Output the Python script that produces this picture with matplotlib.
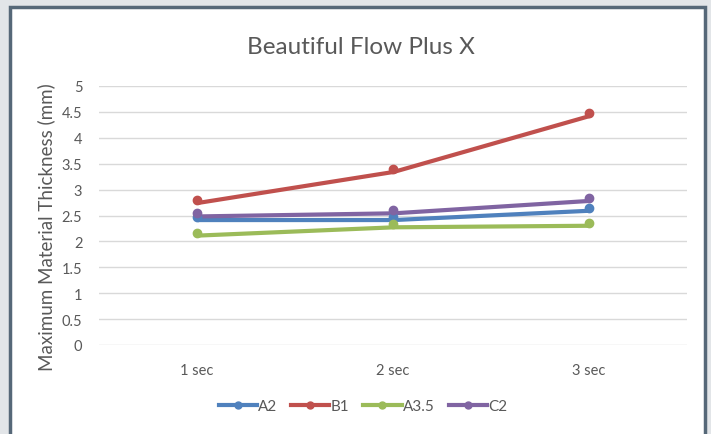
import matplotlib.pyplot as plt
import matplotlib.transforms as mtransforms
from matplotlib.patches import Rectangle

categories = ['1 sec', '2 sec', '3 sec']
series_names = ['A2', 'B1', 'A3.5', 'C2']
a2 = [2.47, 2.47, 2.65]
b1 = [2.80, 3.40, 4.48]
a35 = [2.17, 2.33, 2.36]
c2 = [2.54, 2.60, 2.84]
colors = ['#4F81BD', '#C0504D', '#9BBB59', '#8064A2']
yticks = [0, 0.5, 1, 1.5, 2, 2.5, 3, 3.5, 4, 4.5, 5]

plt.rcParams['font.family'] = ['Lato', 'DejaVu Sans']
text_col = '#595959'

fig = plt.figure(figsize=(7.11, 4.35), dpi=100)
fig.patch.set_facecolor('#e2e5e8')
# white chart frame
fig.patches.append(Rectangle((10 / 711, -0.05), 695 / 711, 1 - 8 / 435 + 0.05,
                             transform=fig.transFigure, facecolor='white',
                             edgecolor='#566878', linewidth=2.5, zorder=-5))

ax = fig.add_axes([99 / 711, (435 - 346) / 435, 588 / 711, 259 / 435])
ax.set_facecolor('none')

x = list(range(1, len(categories) + 1))
shift = mtransforms.ScaledTranslation(1 / 100, -3 / 100, fig.dpi_scale_trans)
for name, vals, c in zip(series_names, [a2, b1, a35, c2], colors):
    ax.plot(x, vals, color=c, lw=3, solid_capstyle='round',
            transform=ax.transData + shift, zorder=3)
    ax.plot(x, vals, color=c, lw=0, marker='o', ms=6, zorder=4)
    # legend proxy
    ax.plot([], [], color=c, lw=3, marker='o', ms=5, label=name)

ax.set_xlim(0.5, 3.5)
ax.set_ylim(0, 5)
ax.set_yticks(yticks)
ax.set_yticklabels([('%g' % v) for v in yticks], color=text_col, fontsize=10.5)
ax.set_xticks(x)
ax.set_xticklabels(categories, color=text_col, fontsize=10.5)
ax.tick_params(length=0, pad=12, axis='y')
ax.tick_params(length=0, pad=13, axis='x')
ax.grid(axis='y', color='#d9d9d9', lw=1)
ax.set_axisbelow(True)
for s in ax.spines.values():
    s.set_visible(False)

ax.set_ylabel('Maximum Material Thickness (mm)', color=text_col, fontsize=13.5, labelpad=5)
ax.yaxis.label.set_y(0.46)
fig.text(361 / 711, 1 - 47 / 435, 'Beautiful Flow Plus X', ha='center', va='center',
         color=text_col, fontsize=17.5)

fig.legend(loc='center', bbox_to_anchor=(363 / 711, 1 - 407 / 435), ncol=4,
           frameon=False, fontsize=11, handlelength=2.5, handletextpad=0.1,
           columnspacing=0.9, labelcolor=text_col)

fig.savefig('out.png', dpi=100)
